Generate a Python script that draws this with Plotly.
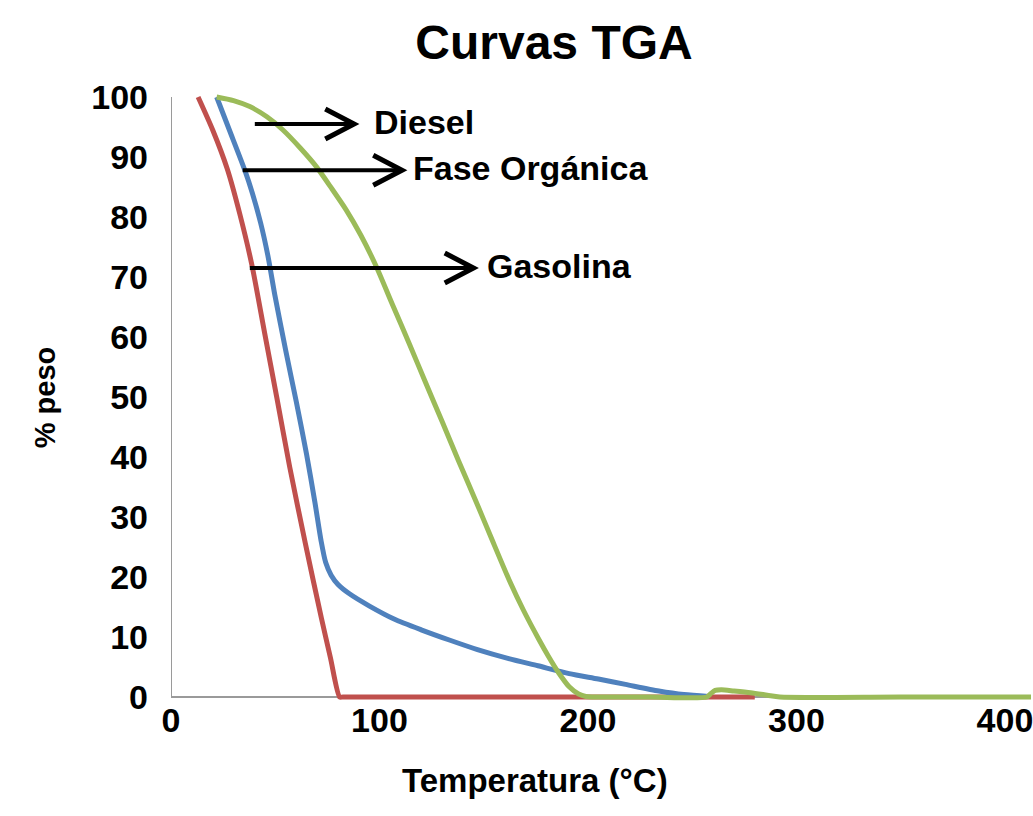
import plotly.graph_objects as go

# ---------------- data ----------------
gasolina_T = [13, 20, 27, 33, 38.8, 45, 50.7, 56.9, 64.5, 72.1, 76.5, 80.9, 82.5, 150, 280]
gasolina_w = [100, 94.5, 88, 80.5, 72, 60.5, 50, 38.4, 25.5, 13.2, 6.5, 0, 0, 0, 0]

organica_T = [21.9, 28, 35.4, 39, 43, 46.5, 49.8, 55, 60.1, 65, 69, 72, 74.2, 76.8, 80, 85.6,
              95, 107, 120, 133.5, 147, 162, 176, 191, 205, 218, 234, 246, 258]
organica_w = [100, 94.5, 87.8, 84, 79, 73.5, 67, 57.8, 49.2, 40.5, 32.5, 26, 22.4, 20.3, 18.8,
              17.2, 15.2, 13.0, 11.2, 9.5, 7.9, 6.4, 5.2, 3.9, 3.0, 2.1, 1.0, 0.4, 0.1]

diesel_T = [21.9, 30, 37.8, 46, 53.7, 62, 69.7, 77, 84, 91, 98.4, 106, 114.4, 122, 130.3, 138,
            146.3, 154, 162.2, 169, 176.6, 181, 186, 191, 195.5, 199, 202, 230, 257, 259, 261,
            264, 270, 278, 286, 292, 350, 420]
diesel_w = [100, 99.4, 98.4, 96.7, 94.5, 91.5, 88.4, 84.8, 81.2, 77, 71.8, 65.6, 58.8, 52.5,
            45.7, 39.3, 32.6, 26.2, 19.5, 14.5, 9.5, 6.8, 4.0, 1.7, 0.5, 0.08, 0, 0, 0, 0.6,
            1.1, 1.2, 1.0, 0.7, 0.3, 0, 0, 0]

y_ticks = [0, 10, 20, 30, 40, 50, 60, 70, 80, 90, 100]
x_ticks = [0, 100, 200, 300, 400]

# labels with arrows: (text, tail T, head T, y %, text start T)
arrow_labels = [("Diesel", 40.2, 89.0, 95.5, 96.2),
                ("Fase Orgánica", 34.4, 112.0, 87.8, 115.2),
                ("Gasolina", 37.8, 146.3, 71.5, 150.6)]

RED, BLUE, GREEN = "#C0504D", "#4F81BD", "#9BBB59"
FONT = "Liberation Sans, Arial, sans-serif"
X_MAX = 412.5

fig = go.Figure()
for xs, ys, name, col in [(gasolina_T, gasolina_w, "Gasolina", RED),
                          (organica_T, organica_w, "Fase Orgánica", BLUE),
                          (diesel_T, diesel_w, "Diesel", GREEN)]:
    fig.add_trace(go.Scatter(x=xs, y=ys, mode="lines", name=name,
                             line=dict(color=col, width=5, shape="spline", smoothing=0.7)))

shapes = [
    dict(type="line", xref="x", yref="y", x0=0, x1=X_MAX, y0=0, y1=0,
         line=dict(color="#9a9a9a", width=2), layer="below"),
    dict(type="line", xref="x", yref="y", x0=0, x1=0, y0=0, y1=100,
         line=dict(color="#9a9a9a", width=2), layer="below"),
]
annotations = []
for text, tail, head, yv, tstart in arrow_labels:
    shapes.append(dict(type="line", xref="x", yref="y", x0=tail, x1=head - 1.5, y0=yv, y1=yv,
                       line=dict(color="black", width=4)))
    shapes.append(dict(type="path", xref="x", yref="y",
                       path=f"M {head-15},{yv+2.5} L {head-1.2},{yv} L {head-15},{yv-2.5}",
                       line=dict(color="black", width=5)))
    annotations.append(dict(x=tstart, y=yv + 0.4, xref="x", yref="y", text=text,
                            showarrow=False, xanchor="left", yanchor="middle",
                            font=dict(family=FONT, size=34, color="black", weight="bold")))

annotations.append(dict(x=(536 - 171) / 862, y=(703 - 780) / 612, xref="paper", yref="paper",
                        text="Temperatura (°C)", showarrow=False, xanchor="center",
                        yanchor="middle",
                        font=dict(family=FONT, size=33, color="black", weight="bold")))
annotations.append(dict(x=(45 - 171) / 862, y=0.5, xref="paper", yref="paper",
                        text="% peso", showarrow=False, textangle=-90, xanchor="center",
                        yanchor="middle",
                        font=dict(family=FONT, size=29, color="black", weight="bold")))

fig.update_layout(
    width=1033, height=816,
    margin=dict(l=171, r=0, t=91, b=113),
    paper_bgcolor="white", plot_bgcolor="white",
    showlegend=False,
    title=dict(text="Curvas TGA", x=554 / 1033, xanchor="center", xref="container",
               y=1 - 42 / 816, yanchor="middle", yref="container",
               font=dict(family=FONT, size=48, color="black", weight="bold")),
    xaxis=dict(range=[0, X_MAX], tickvals=x_ticks, showgrid=False, zeroline=False,
               showline=False, ticks="", ticklabelstandoff=-6, ticklabeloverflow="allow",
               tickfont=dict(family=FONT, size=34, color="black", weight="bold")),
    yaxis=dict(range=[-1, 101], tickvals=y_ticks, showgrid=False, zeroline=False,
               showline=False, ticks="", ticklabelstandoff=22,
               tickfont=dict(family=FONT, size=34, color="black", weight="bold")),
    shapes=shapes,
    annotations=annotations,
)

fig.write_html("out.html")
